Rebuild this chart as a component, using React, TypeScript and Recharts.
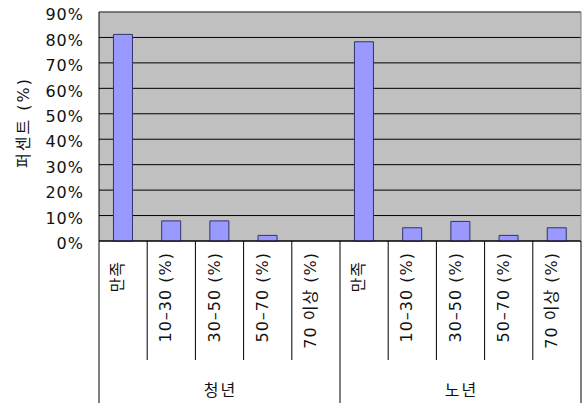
import React from 'react';
import { BarChart, Bar, XAxis, YAxis, CartesianGrid, ReferenceLine } from 'recharts';

const groups = ['청년', '노년'];
const categories = ['만족', '10–30 (%)', '30–50 (%)', '50–70 (%)', '70 이상 (%)'];
const youthValues = [81.2, 7.9, 7.9, 2.2, 0];
const elderlyValues = [78.3, 5.2, 7.7, 2.2, 5.2];
const yTicks = [0, 10, 20, 30, 40, 50, 60, 70, 80, 90];
const yAxisTitle = '퍼센트 (%)';

const seriesByGroup = [youthValues, elderlyValues];
const data = groups.flatMap((g, gi) =>
  categories.map((c, ci) => ({ key: `${g}|${c}`, group: g, category: c, value: seriesByGroup[gi][ci] }))
);

const CHART_W = 582;
const CHART_H = 403;
const MARGIN = { top: 12, right: 0, left: 0, bottom: 0 };
const Y_AXIS_W = 99;
const Y_AXIS_R_W = 1;
const X_AXIS_H = 162;
const PLOT_W = CHART_W - MARGIN.left - MARGIN.right - Y_AXIS_W - Y_AXIS_R_W;
const BAND = PLOT_W / data.length;
const GROUP_SIZE = categories.length;

const FONT = '"DejaVu Sans", "Noto Sans CJK KR", sans-serif';
const FS = 16;
const LS = 1;
const TEXT_FILL = '#111';

const CategoryTick = (props: any) => {
  const { x, y, payload, index } = props;
  const [group, category] = String(payload.value).split('|');
  const left = x - BAND / 2;
  const right = x + BAND / 2;
  const inGroup = index % GROUP_SIZE;
  const isLast = index === data.length - 1;
  const tx = x - 5.5;
  const ty = y + 11 + (inGroup === 0 ? 9 : 0);
  return (
    <g>
      <line x1={left} y1={y} x2={left} y2={inGroup === 0 ? CHART_H : y + 119} stroke="#000" strokeWidth={1} />
      {isLast && <line x1={right} y1={y} x2={right} y2={CHART_H} stroke="#000" strokeWidth={1} />}
      <text
        x={tx}
        y={ty}
        transform={`rotate(-90, ${tx}, ${ty})`}
        textAnchor="end"
        dy="0.35em"
        fontFamily={FONT}
        fontSize={FS}
        letterSpacing={LS}
        fill={TEXT_FILL}
      >
        {category}
      </text>
      {inGroup === Math.floor(GROUP_SIZE / 2) && (
        <text x={x + 1} y={y + 149} textAnchor="middle" dy="0.35em" fontFamily={FONT} fontSize={16} letterSpacing={2} fill={TEXT_FILL}>
          {group}
        </text>
      )}
    </g>
  );
};

const ValueTick = (props: any) => {
  const { x, y, payload } = props;
  return (
    <text x={x - 16 + LS} y={y + 2.5} dy="0.36em" textAnchor="end" fontFamily={FONT} fontSize={FS} letterSpacing={LS} fill={TEXT_FILL}>
      {`${payload.value}%`}
    </text>
  );
};

export default function App() {
  return (
    <div style={{ position: 'absolute', left: 0, top: 0, width: CHART_W, height: CHART_H, background: '#fff' }}>
      <BarChart width={CHART_W} height={CHART_H} data={data} margin={MARGIN} barCategoryGap="30%">
        <CartesianGrid vertical={false} stroke="#000" fill="#C0C0C0" fillOpacity={1} />
        <XAxis
          dataKey="key"
          interval={0}
          height={X_AXIS_H}
          tickSize={0}
          tickMargin={0}
          tickLine={false}
          axisLine={{ stroke: '#000' }}
          tick={<CategoryTick />}
        />
        <YAxis
          domain={[0, 90]}
          ticks={yTicks}
          width={Y_AXIS_W}
          tickSize={0}
          tickMargin={0}
          tickLine={false}
          axisLine={{ stroke: '#000' }}
          tick={<ValueTick />}
          label={{
            value: yAxisTitle,
            angle: -90,
            position: 'insideLeft',
            offset: 0,
            dx: 23,
            dy: -4,
            style: { fontFamily: FONT, fontSize: FS, letterSpacing: 2, fill: TEXT_FILL, textAnchor: 'middle' },
          }}
        />
        <YAxis
          yAxisId="right"
          orientation="right"
          width={Y_AXIS_R_W}
          domain={[0, 90]}
          tick={false}
          tickLine={false}
          axisLine={{ stroke: '#808080' }}
        />
        <ReferenceLine y={90} stroke="#808080" ifOverflow="extendDomain" />
        <Bar dataKey="value" fill="#9999FF" stroke="#333366" strokeWidth={1} isAnimationActive={false} />
      </BarChart>
    </div>
  );
}
